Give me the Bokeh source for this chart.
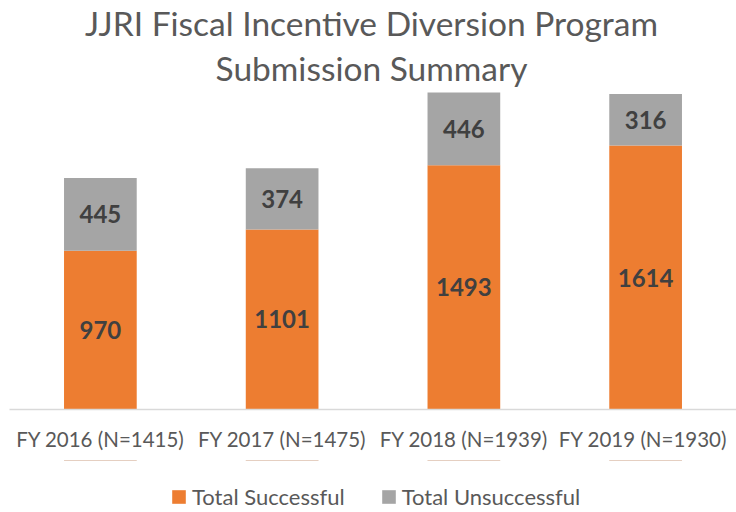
from bokeh.plotting import figure
from bokeh.layouts import column
from bokeh.core.properties import value
from bokeh.models import ColumnDataSource, LabelSet, Label, Legend, LegendItem, Range1d, FactorRange
from bokeh.embed import file_html
from bokeh.resources import INLINE

# ---- data ----
categories = ["FY 2016 (N=1415)", "FY 2017 (N=1475)", "FY 2018 (N=1939)", "FY 2019  (N=1930)"]
successful = [970, 1101, 1493, 1614]
unsuccessful = [445, 374, 446, 316]
series_names = ["Total Successful", "Total Unsuccessful"]
title_lines = ["JJRI Fiscal Incentive Diversion Program", "Submission Summary"]

ORANGE = "#ED7D31"
GRAY = "#A5A5A5"
FONT = "Lato"

src = ColumnDataSource(dict(
    cat=categories,
    succ=successful,
    unsucc=unsuccessful,
    succ_mid=[s / 2 for s in successful],
    unsucc_mid=[s + u / 2 for s, u in zip(successful, unsuccessful)],
    succ_txt=[str(s) for s in successful],
    unsucc_txt=[str(u) for u in unsuccessful],
))

p = figure(x_range=FactorRange(*categories), y_range=Range1d(0, 2501),
           width=736, height=460, output_backend="svg", toolbar_location=None,
           min_border_left=9, min_border_right=0, min_border_top=0, min_border_bottom=51)
p.x_range.range_padding = 0
p.x_range.factor_padding = 0

p.vbar_stack(["succ", "unsucc"], x="cat", width=0.4, source=src,
             color=[ORANGE, GRAY], line_color=None)

p.yaxis.visible = False
p.xgrid.grid_line_color = None
p.ygrid.grid_line_color = None
p.outline_line_color = None

xa = p.xaxis[0]
xa.axis_line_color = "#D9D9D9"
xa.axis_line_width = 1.5
xa.major_tick_line_color = None
xa.minor_tick_line_color = None
xa.major_label_text_font = FONT
xa.major_label_text_font_size = "20.5px"
xa.major_label_text_color = "#595959"
xa.major_label_standoff = 11

for ycol, tcol in (("succ_mid", "succ_txt"), ("unsucc_mid", "unsucc_txt")):
    p.add_layout(LabelSet(x="cat", y=ycol, text=tcol, source=src,
                          text_align="center", text_baseline="middle",
                          text_font=value(FONT), text_font_style="bold",
                          text_font_size="24px", text_color="#404040"))

# title lines (screen units relative to the frame bottom-left)
for line, yy in zip(title_lines, [387, 342]):
    p.add_layout(Label(x=362, y=yy, x_units="screen", y_units="screen", text=line,
                       text_align="center", text_baseline="alphabetic",
                       text_font=FONT, text_font_size="33.5px", text_color="#595959"))

# legend strip below the chart: zero-height bars only supply the legend swatches
p2 = figure(width=736, height=52, output_backend="svg", toolbar_location=None,
            x_range=FactorRange(*categories), y_range=Range1d(0, 1),
            min_border_left=0, min_border_right=0, min_border_top=0, min_border_bottom=0)
p2.axis.visible = False
p2.grid.grid_line_color = None
p2.outline_line_color = None
r_s = p2.vbar(x="cat", top="succ", bottom="succ", width=0.4, source=src,
              color=ORANGE, line_color=None)
r_u = p2.vbar(x="cat", top="unsucc", bottom="unsucc", width=0.4, source=src,
              color=GRAY, line_color=None)

legend = Legend(items=[LegendItem(label=series_names[0], renderers=[r_s]),
                       LegendItem(label=series_names[1], renderers=[r_u])],
                orientation="horizontal", location=(161, 2),
                label_text_font=FONT, label_text_font_size="22px", label_text_color="#595959",
                glyph_width=17, glyph_height=17, label_standoff=5, spacing=35,
                border_line_color=None, background_fill_alpha=0,
                margin=0, padding=0)
p2.add_layout(legend)

open("out.html", "w").write(file_html(column(p, p2, spacing=0), INLINE))
